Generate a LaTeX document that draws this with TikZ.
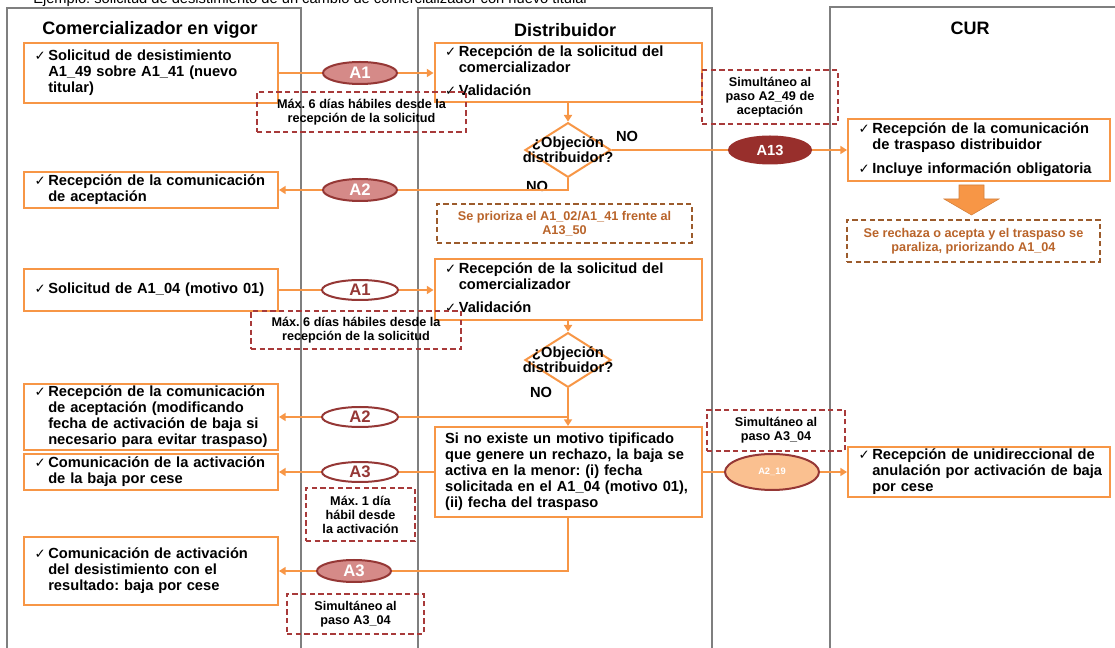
\documentclass[tikz,border=0pt]{standalone}
\usepackage{fontspec}
\setmainfont{Liberation Sans}
\newfontfamily\ckfont{DejaVu Sans}
\usetikzlibrary{shapes.geometric,arrows.meta}
\frenchspacing
\definecolor{obor}{HTML}{F79646}
\definecolor{lanegray}{HTML}{7F7F7F}
\definecolor{ered}{HTML}{953735}
\definecolor{epink}{HTML}{D58A88}
\definecolor{edark}{HTML}{982F2C}
\definecolor{eorange}{HTML}{FAC090}
\definecolor{nred}{HTML}{A83A3A}
\definecolor{nbrown}{HTML}{9C5B2C}
\definecolor{tbrown}{HTML}{B9642A}
\newcommand\ck{{\ckfont\fontsize{10}{10}\selectfont ✓}}
\newcommand\cktab[1]{\begin{tabular}{@{}l@{\,}l@{}}#1\end{tabular}}
\tikzset{
  lane/.style={draw=lanegray, line width=1.5pt},
  head/.style={font=\bfseries\fontsize{13.5}{15}\selectfont},
  obox/.style={draw=obor, line width=1.5pt, fill=white, inner xsep=8pt, inner ysep=0pt,
     align=left, font=\bfseries\fontsize{11}{12}\selectfont\frenchspacing},
  lbox/.style={obox, text width=174.5pt},
  dbox/.style={obox, text width=184.25pt},
  cbox/.style={obox, text width=180.5pt},
  ell/.style={ellipse, draw=ered, line width=1.5pt, inner sep=0pt, font=\bfseries\fontsize{12.5}{13}\selectfont},
  ellA/.style={ell, fill=epink, text=white, minimum width=55.5pt, minimum height=16.5pt},
  ellW/.style={ell, fill=white, text=ered, minimum width=57pt, minimum height=15pt},
  ellD/.style={ell, fill=edark, draw=edark, text=white, font=\bfseries\fontsize{11}{12}\selectfont, minimum width=61.5pt, minimum height=20.25pt},
  ellO/.style={ell, fill=eorange, text=white, font=\bfseries\fontsize{7}{8}\selectfont, minimum width=70.5pt, minimum height=27pt},
  note/.style={draw=nred, dash pattern=on 4pt off 2.5pt, line width=0.9pt, align=center,
     font=\bfseries\fontsize{9.5}{10.5}\selectfont\frenchspacing, inner sep=0pt},
  bnote/.style={note, draw=nbrown, text=tbrown},
  dia/.style={diamond, draw=obor, line width=1.5pt, fill=white, inner sep=0pt, minimum width=64.5pt, minimum height=41pt},
  diatext/.style={align=center, font=\bfseries\fontsize{11}{11}\selectfont},
  nolab/.style={font=\bfseries\fontsize{11}{12}\selectfont},
  conn/.style={draw=obor, line width=1.5pt},
  arr/.style={conn, -{Triangle[length=5pt,width=6pt]}},
}
\begin{document}
\begin{tikzpicture}[x=0.75pt,y=-0.75pt]
\useasboundingbox (0,0) rectangle (1115,648);
% title (cut at top, as in the reference)
\node[anchor=base west, inner sep=0pt, font=\fontsize{11}{12}\selectfont\frenchspacing] (title) at (33,4)
  {Ejemplo: solicitud de desistimiento de un cambio de comercializador con nuevo titular};
% lanes
\draw[lane] (7,660) -- (7,8) -- (301,8) -- (301,660);
\draw[lane] (418,660) -- (418,8) -- (712,8) -- (712,660);
\draw[lane] (830,660) -- (830,7) -- (1125,7);
\node[head] (h1) at (150,30) {Comercializador en vigor};
\node[head] (h2) at (565,30) {Distribuidor};
\node[head] (h3) at (970,28) {CUR};

% boxes
\node[lbox, minimum height=45pt] (B1) at (151,73)
  {\cktab{\ck & Solicitud de desistimiento\\ & A1\_49 sobre A1\_41 (nuevo\\ & titular)}};
\node[dbox, minimum height=44.25pt] (B2) at (568,73)
  {\cktab{\ck & Recepción de la solicitud del\\ & comercializador\\[5pt] \ck & Validación}};
\node[lbox, minimum height=27pt] (B3) at (151,190)
  {\cktab{\ck & Recepción de la comunicación\\ & de aceptación}};
\node[cbox, minimum height=46.5pt] (C1) at (979,150)
  {\cktab{\ck & Recepción de la comunicación\\ & de traspaso distribuidor\\[6pt] \ck & Incluye información obligatoria}};
\node[lbox, minimum height=31.5pt] (B4) at (151,290)
  {\cktab{\ck & Solicitud de A1\_04 (motivo 01)}};
\node[dbox, minimum height=45.75pt] (B5) at (568,290)
  {\cktab{\ck & Recepción de la solicitud del\\ & comercializador\\[5pt] \ck & Validación}};
\node[lbox, minimum height=49pt] (B6) at (151,417)
  {\cktab{\ck & Recepción de la comunicación\\ & de aceptación (modificando\\ & fecha de activación de baja si\\ & necesario para evitar traspaso)}};
\node[dbox, minimum height=67.5pt] (B7) at (568,472)
  {Si no existe un motivo tipificado\\que genere un rechazo, la baja se\\activa en la menor: (i) fecha\\solicitada en el A1\_04 (motivo 01),\\(ii) fecha del traspaso};
\node[lbox, minimum height=27pt] (B8) at (151,472)
  {\cktab{\ck & Comunicación de la activación\\ & de la baja por cese}};
\node[cbox, minimum height=37.5pt] (C2) at (979,472)
  {\cktab{\ck & Recepción de unidireccional de\\ & anulación por activación de baja\\ & por cese}};
\node[lbox, minimum height=51pt] (B9) at (151,571)
  {\cktab{\ck & Comunicación de activación\\ & del desistimiento con el\\ & resultado: baja por cese}};

% decisions
\node[dia] (D1) at (568,150) {};
\node[diatext] (D1t) at (568,150) {¿Objeción\\distribuidor?};
\node[dia] (D2) at (568,360) {};
\node[diatext] (D2t) at (568,360) {¿Objeción\\distribuidor?};
\node[nolab] (no1) at (627,136) {NO};
\node[nolab] (no2) at (537,186) {NO};
\node[nolab] (no3) at (541,392) {NO};

% message ellipses
\node[ellA] (E1) at (360,73) {A1};
\node[ellA] (E2) at (360,190) {A2};
\node[ellD] (E3) at (770,150) {A13};
\node[ellW] (E4) at (360,290) {A1};
\node[ellW] (E5) at (360,417) {A2};
\node[ellW] (E6) at (360,472) {A3};
\node[ellO] (E7) at (772,472) {A2\_19};
\node[ellA] (E8) at (354,571) {A3};

% connectors
\draw[conn] (B1) -- (E1);
\draw[arr] (E1) -- (B2);
\draw[arr] (B2) -- (D1);
\draw[conn] (D1) -- (E3);
\draw[arr] (E3) -- (C1);
\draw[conn] (D1.south) |- (E2);
\draw[arr] (E2) -- (B3);
\draw[conn] (B4) -- (E4);
\draw[arr] (E4) -- (B5);
\draw[arr] (B5) -- (D2);
\coordinate (J) at (D2.south |- E5);
\draw[arr] (D2.south) -- (B7.north);
\draw[conn] (J) -- (E5);
\draw[arr] (E5) -- (B6);
\draw[conn] (B7) -- (E6);
\draw[arr] (E6) -- (B8);
\draw[conn] (B7) -- (E7);
\draw[arr] (E7) -- (C2);
\draw[conn] (B7.south) |- (E8);
\draw[arr] (E8) -- (B9);

% big arrow
\filldraw[fill=obor, draw=obor!85!black, line width=0.4pt]
  (959,185) -- (984,185) -- (984,199) -- (999,199) -- (971.5,215) -- (944,199) -- (959,199) -- cycle;

% notes
\node[note, minimum width=156.75pt, minimum height=30pt] (N1) at (361.5,112)
  {Máx. 6 días hábiles desde la\\recepción de la solicitud};
\node[note, minimum width=102pt, minimum height=40.5pt] (N2) at (770,97)
  {Simultáneo al\\paso A2\_49 de\\aceptación};
\node[bnote, minimum width=191.25pt, minimum height=29.25pt] (N3) at (564.5,223.5)
  {Se prioriza el A1\_02/A1\_41 frente al\\A13\_50};
\node[bnote, minimum width=189.75pt, minimum height=31.5pt] (N4) at (973.5,241)
  {Se rechaza o acepta y el traspaso se\\paraliza, priorizando A1\_04};
\node[note, minimum width=157.5pt, minimum height=28.5pt] (N5) at (356,330)
  {Máx. 6 días hábiles desde la\\recepción de la solicitud};
\node[note, minimum width=103.5pt, minimum height=30.75pt] (N6) at (776,430.5)
  {Simultáneo al\\paso A3\_04};
\node[note, minimum width=81.75pt, minimum height=39.75pt] (N7) at (360.5,514.5)
  {Máx. 1 día\\hábil desde\\la activación};
\node[note, minimum width=102.75pt, minimum height=30pt] (N8) at (355.5,614)
  {Simultáneo al\\paso A3\_04};
\end{tikzpicture}
\end{document}
